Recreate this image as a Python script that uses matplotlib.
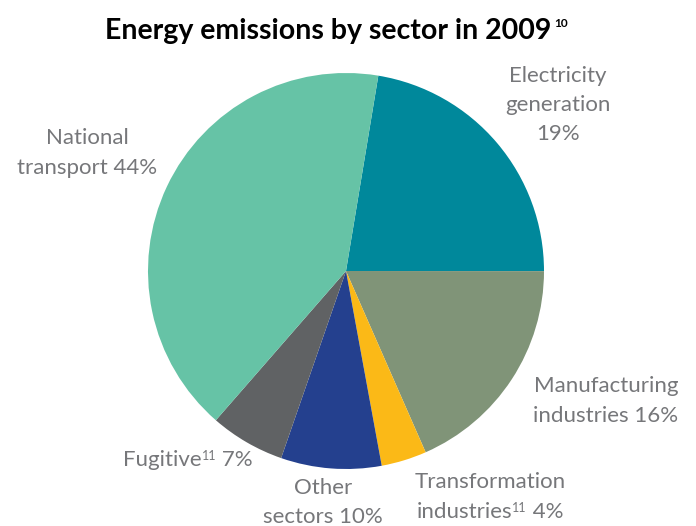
import matplotlib
matplotlib.use("Agg")
import matplotlib.pyplot as plt
from matplotlib.offsetbox import TextArea, HPacker, AnnotationBbox

# ---- data ----
sectors = ["Electricity generation", "Manufacturing industries", "Transformation industries",
           "Other sectors", "Fugitive", "National transport"]
shares = [22.4, 18.4, 3.7, 8.2, 6.1, 41.2]   # slice sizes as drawn
label_pct = ["19%", "16%", "4%", "10%", "7%", "44%"]  # printed percentages
colors = ["#00889b", "#809478", "#fbb917", "#24408e", "#606264", "#66c3a6"]

W, H = 696, 526
fig = plt.figure(figsize=(W / 100, H / 100), dpi=100)
cx, cy, r = 346, 271, 198
ax = fig.add_axes([(cx - r) / W, (H - cy - r) / H, 2 * r / W, 2 * r / H])
ax.pie(shares, colors=colors, startangle=80.6, counterclock=False, radius=1,
       wedgeprops=dict(linewidth=0))
ax.set_xlim(-1, 1)
ax.set_ylim(-1, 1)
ax.set_aspect("equal")
ax.axis("off")

FONT = "Lato"
TCOL = "#76777a"
FS = 16
SUP = 9


def line(parts, x, y, color=TCOL, weight="normal", fs=FS, sup=SUP, sep=0):
    boxes = []
    for txt, is_sup in parts:
        boxes.append(TextArea(txt, textprops=dict(color=color, fontsize=sup if is_sup else fs,
                                                   family=FONT, weight=weight)))
    packer = HPacker(children=boxes, align="top" if any(s for _, s in parts) else "baseline",
                     pad=0, sep=sep)
    ab = AnnotationBbox(packer, (x / W, 1 - y / H), xycoords="figure fraction",
                        frameon=False, box_alignment=(0.5, 0.5), pad=0)
    fig.add_artist(ab)


# title
line([("Energy emissions by sector in 2009", False), ("10", True)], 336, 31,
     color="black", weight="bold", fs=20.5, sup=8.5, sep=2)

# labels
line([("National", False)], 87, 138)
line([("transport " + label_pct[5], False)], 87, 168)
line([("Electricity", False)], 558, 76)
line([("generation", False)], 558, 105)
line([(label_pct[0], False)], 558, 134)
line([("Manufacturing", False)], 606, 386)
line([("industries " + label_pct[1], False)], 606, 416)
line([("Transformation", False)], 490, 482)
line([("industries", False), ("11", True), (" " + label_pct[2], False)], 490, 512)
line([("Other", False)], 323, 488)
line([("sectors " + label_pct[3], False)], 323, 517)
line([("Fugitive", False), ("11", True), (" " + label_pct[4], False)], 188, 460)

fig.savefig("out.png", dpi=100)
